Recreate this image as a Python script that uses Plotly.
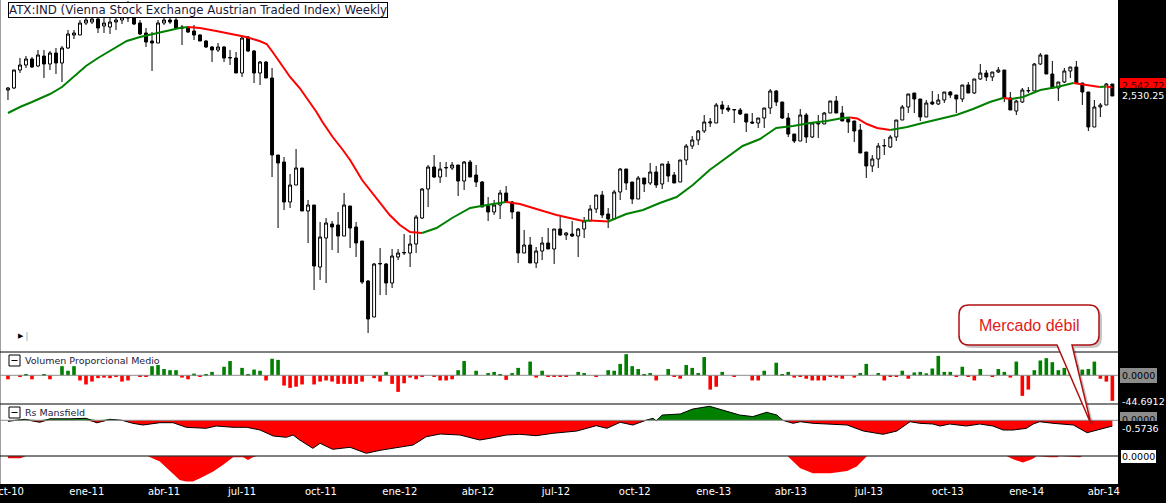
import numpy as np
import pandas as pd
import plotly.graph_objects as go
from plotly.subplots import make_subplots

# ---- datos (semanal, viernes desde 1-oct-2010) ----
start = pd.Timestamp('2010-10-01')

open_ = [2554, 2562, 2634, 2654, 2678, 2650, 2690, 2658, 2702, 2662,
         2722, 2774, 2774, 2822, 2826, 2838, 2810, 2806, 2826, 2834,
         2842, 2854, 2822, 2782, 2750, 2742, 2822, 2834, 2834, 2806,
         2806, 2790, 2774, 2750, 2726, 2714, 2726, 2682, 2682, 2622,
         2766, 2710, 2622, 2666, 2602, 2294, 2266, 2106, 2174, 2242,
         2070, 2094, 1846, 1962, 2018, 2014, 1970, 2090, 2006, 1950,
         1790, 1646, 1858, 1858, 1782, 1886, 1902, 1902, 1938, 2042,
         2158, 2246, 2206, 2242, 2242, 2254, 2190, 2266, 2214, 2186,
         2090, 2066, 2094, 2142, 2106, 2066, 1902, 1934, 1862, 1910,
         1942, 1918, 1998, 1974, 1978, 1970, 1998, 2030, 2078, 2134,
         2058, 2038, 2146, 2238, 2186, 2118, 2202, 2182, 2226, 2178,
         2258, 2214, 2186, 2274, 2330, 2354, 2390, 2422, 2422, 2494,
         2482, 2474, 2474, 2458, 2426, 2422, 2442, 2482, 2550, 2506,
         2442, 2378, 2350, 2454, 2366, 2418, 2418, 2462, 2510, 2462,
         2438, 2430, 2394, 2306, 2250, 2278, 2330, 2326, 2366, 2434,
         2486, 2542, 2518, 2446, 2506, 2498, 2514, 2546, 2534, 2518,
         2574, 2542, 2598, 2622, 2606, 2626, 2634, 2522, 2470, 2506,
         2550, 2550, 2658, 2694, 2618, 2562, 2586, 2630, 2646, 2582,
         2546, 2406, 2486, 2494, 2578]
high = [2566, 2634, 2682, 2690, 2686, 2714, 2714, 2710, 2722, 2730,
        2794, 2794, 2834, 2850, 2858, 2854, 2842, 2850, 2862, 2874,
        2910, 2866, 2834, 2802, 2786, 2834, 2846, 2854, 2850, 2814,
        2810, 2814, 2778, 2754, 2730, 2742, 2730, 2714, 2706, 2766,
        2770, 2714, 2670, 2670, 2642, 2294, 2286, 2218, 2318, 2242,
        2114, 2094, 2026, 2042, 2030, 2066, 2142, 2090, 2026, 1950,
        1794, 1862, 1922, 1862, 1918, 1918, 1978, 1974, 2054, 2162,
        2254, 2294, 2266, 2266, 2266, 2254, 2270, 2274, 2254, 2190,
        2126, 2114, 2154, 2170, 2110, 2066, 1994, 1966, 1926, 1966,
        2002, 1998, 2046, 1986, 2030, 2002, 2046, 2094, 2134, 2150,
        2082, 2154, 2242, 2238, 2186, 2210, 2202, 2262, 2250, 2258,
        2270, 2226, 2274, 2338, 2370, 2394, 2454, 2442, 2502, 2510,
        2494, 2478, 2482, 2458, 2462, 2442, 2482, 2558, 2554, 2506,
        2462, 2378, 2478, 2462, 2422, 2454, 2466, 2510, 2530, 2490,
        2442, 2430, 2418, 2306, 2294, 2342, 2358, 2374, 2434, 2494,
        2538, 2542, 2518, 2514, 2550, 2538, 2546, 2550, 2534, 2574,
        2586, 2598, 2658, 2634, 2626, 2646, 2634, 2546, 2514, 2562,
        2566, 2662, 2702, 2694, 2670, 2586, 2642, 2646, 2670, 2582,
        2546, 2514, 2502, 2582, 2578]
low = [2514, 2558, 2622, 2642, 2642, 2646, 2602, 2634, 2618, 2586,
       2718, 2758, 2774, 2814, 2818, 2782, 2782, 2778, 2794, 2818,
       2826, 2814, 2774, 2726, 2630, 2742, 2814, 2818, 2798, 2734,
       2782, 2754, 2750, 2722, 2666, 2706, 2666, 2654, 2622, 2606,
       2706, 2582, 2574, 2602, 2206, 2002, 2074, 2082, 2174, 2070,
       1942, 1754, 1794, 1782, 1914, 1902, 1970, 1922, 1886, 1778,
       1582, 1646, 1734, 1734, 1762, 1874, 1894, 1846, 1902, 2038,
       2086, 2202, 2182, 2206, 2234, 2130, 2154, 2206, 2166, 2086,
       2030, 2054, 2038, 2106, 2038, 1862, 1902, 1862, 1842, 1874,
       1918, 1858, 1970, 1954, 1966, 1886, 1962, 2030, 2062, 2042,
       2002, 2038, 2114, 2154, 2098, 2118, 2146, 2174, 2162, 2158,
       2186, 2182, 2186, 2254, 2318, 2334, 2382, 2406, 2422, 2458,
       2466, 2422, 2454, 2386, 2418, 2402, 2402, 2458, 2490, 2438,
       2366, 2342, 2350, 2342, 2362, 2362, 2418, 2462, 2462, 2430,
       2382, 2346, 2302, 2202, 2226, 2242, 2294, 2322, 2350, 2434,
       2462, 2462, 2430, 2446, 2494, 2494, 2502, 2522, 2462, 2506,
       2542, 2538, 2594, 2590, 2590, 2622, 2506, 2474, 2454, 2502,
       2542, 2550, 2654, 2618, 2562, 2510, 2582, 2602, 2582, 2494,
       2390, 2406, 2446, 2494, 2530]
close = [2562, 2634, 2654, 2678, 2646, 2694, 2658, 2702, 2662, 2722,
         2778, 2782, 2822, 2834, 2838, 2802, 2822, 2826, 2834, 2846,
         2858, 2818, 2778, 2746, 2742, 2822, 2834, 2826, 2802, 2802,
         2786, 2774, 2750, 2726, 2714, 2726, 2682, 2684, 2622, 2762,
         2710, 2622, 2666, 2602, 2294, 2262, 2106, 2174, 2242, 2070,
         2094, 1850, 1966, 2022, 2006, 1970, 2094, 2002, 1942, 1786,
         1638, 1858, 1860, 1782, 1890, 1902, 1904, 1938, 2046, 2158,
         2246, 2206, 2238, 2244, 2254, 2190, 2266, 2206, 2186, 2086,
         2066, 2094, 2142, 2106, 2066, 1902, 1934, 1862, 1910, 1942,
         1918, 1998, 1974, 1982, 1970, 1998, 2030, 2078, 2134, 2054,
         2038, 2146, 2238, 2182, 2118, 2202, 2178, 2226, 2174, 2258,
         2210, 2182, 2274, 2330, 2354, 2390, 2426, 2426, 2494, 2478,
         2474, 2476, 2458, 2426, 2422, 2442, 2482, 2550, 2506, 2442,
         2378, 2350, 2454, 2366, 2422, 2422, 2462, 2510, 2462, 2430,
         2426, 2390, 2302, 2250, 2278, 2330, 2332, 2366, 2434, 2486,
         2538, 2518, 2446, 2502, 2498, 2514, 2546, 2534, 2518, 2574,
         2542, 2598, 2622, 2606, 2626, 2634, 2522, 2474, 2510, 2554,
         2552, 2658, 2694, 2618, 2562, 2586, 2630, 2646, 2582, 2546,
         2406, 2486, 2494, 2578, 2530]

# media movil (posicion en semanas, valor)
ma_pos = [0, 2, 4, 7, 9, 11, 13, 15, 17.5, 19.8, 22, 24, 26.4, 28.6, 30, 32, 34.7, 37.5,
          39.7, 41.9, 43.1, 44.1, 45.8, 47, 48.6, 50, 51.4, 52.4, 54.1, 55.8, 57, 59, 60.3,
          62, 63.6, 65.3, 67, 69, 71.4, 74, 77, 79.8, 83, 85.3, 88.6, 91.4, 93.6, 95.8, 97,
          100, 101, 103, 105.8, 108.6, 111.4, 114.1, 116.9, 119.8, 122.4, 125.3, 128, 130.8,
          133.6, 136.4, 139.1, 140.3, 141.5, 143.1, 144.8, 147, 149.8, 152.4, 155.3, 158,
          160.8, 163.6, 165.8, 167.2, 169.1, 172, 174.8, 177.5, 180.3, 181.9, 183, 184]
ma_val = [2462, 2486, 2506, 2538, 2566, 2610, 2650, 2682, 2718, 2750, 2766, 2778, 2790, 2802,
          2806, 2802, 2790, 2778, 2766, 2750, 2738, 2706, 2646, 2606, 2562, 2514, 2466, 2426,
          2366, 2314, 2274, 2194, 2154, 2102, 2054, 2014, 1986, 1982, 2002, 2042, 2082, 2094,
          2106, 2098, 2074, 2054, 2042, 2030, 2032, 2028, 2038, 2058, 2074, 2102, 2126, 2174,
          2234, 2286, 2330, 2358, 2402, 2410, 2422, 2430, 2442, 2444, 2440, 2418, 2402, 2394,
          2406, 2422, 2438, 2454, 2478, 2506, 2522, 2518, 2526, 2554, 2566, 2582, 2572, 2566,
          2568, 2564]

# Volumen Proporcional Medio
volumen = [-7, 0, -2, 2, -7, 0, 2, -7, 0, 16,
           8, 16, -9, -16, -11, -5, -4, -5, -2, -11,
           -9, 0, -3, -3, 16, 18, 11, 9, 9, -4,
           -7, 3, -3, 2, 6, 0, 15, 25, 0, 13,
           2, 10, 8, -9, 29, 27, -18, -22, -20, -16,
           0, -16, -11, -9, -11, -15, -15, -15, -15, -11,
           0, -5, -11, 6, -15, -29, -14, -4, -7, -2,
           0, -2, -9, -9, -7, 9, 25, 0, 8, 0,
           4, 6, 2, -8, 4, 13, 0, 24, -4, 8,
           -2, -2, -2, -2, 0, 6, 4, 0, -2, 0,
           9, 8, 20, 37, 16, 11, 2, 4, -9, 0,
           11, -2, -6, 18, 13, 4, 32, -25, -20, 6,
           0, -2, 0, 0, -9, -9, 8, 0, 22, 2,
           6, -4, -2, -6, -9, -9, -9, -2, -4, -6,
           0, -4, 4, 20, 0, 4, -9, -2, -2, 8,
           -6, 5, 6, 3.5, 12, 34, 6, 6, -2, 15,
           -2, -9, 11, 0, -2, 11, 6, -4, 24, -36,
           -25, 9, 26, 30, 23, 9, 13, 22, 18, 10,
           11, 24, -6, -11, -44.6912]

# Rs Mansfield (curva superior)
rs_pos = [0, 2.8, 5.3, 7, 10.3, 13, 14.8, 17, 19, 20.8, 22.5, 25.3, 27.5, 29.7, 33, 34.7,
          37.5, 39.8, 42, 44.2, 46.4, 47.5, 48.6, 50.8, 52, 54.1, 57, 59.7, 62, 65.3, 67.5,
          69.7, 72, 75.3, 78.6, 80.3, 83, 85.3, 88, 90.8, 94.8, 98, 99.8, 102, 104.1, 106.4,
          107.5, 108, 109, 112, 114.1, 116.9, 119.1, 121.9, 124.1, 126.4, 128.1, 129.1,
          130.8, 132, 134.1, 137, 139.8, 142.5, 145.8, 148.1, 150.3, 151.9, 154.1, 155.3,
          156.9, 159.7, 161.9, 164.1, 165.8, 167.5, 169.7, 170.8, 171.9, 174.1, 176.4,
          177.5, 179.8, 182, 184]
rs_val = [-0.1, 0.1, -0.2, 0.15, 0.15, 0.2, -0.25, 0.1, 0.0, -0.3, -0.47, -0.24, -0.24,
          -0.7, -0.8, -0.57, -0.7, -0.7, -0.97, -1.57, -1.7, -1.47, -1.97, -2.8, -2.3, -2.9,
          -2.7, -3.3, -3.0, -2.7, -2.47, -1.64, -1.37, -1.47, -1.97, -1.8, -1.47, -1.4,
          -1.54, -1.3, -1.07, -0.54, -0.8, -0.2, -0.47, 0.03, 0.2, -0.07, 0.53, 0.63, 1.13,
          1.4, 1.03, 0.53, 0.37, 0.8, 0.53, 0.0, -0.3, -0.14, -0.3, -0.37, -0.47, -1.07,
          -1.4, -1.07, -0.14, -0.3, -0.37, -0.57, -0.37, -0.57, -0.37, -0.57, -0.97, -0.97,
          -0.8, -0.37, -0.14, -0.3, -0.37, -0.47, -1.24, -0.9, -0.5736]

# Rs Mansfield (banda inferior)
rs2_pos = [0, 2, 3, 23.3, 25.3, 27.5, 28.6, 29.7, 30.8, 32, 34.2, 35.8, 37.5, 39.2, 40,
           40.8, 41.5, 129.9, 132, 134.1, 137, 139.8, 141.4, 143.1, 166.4, 167.5, 169.1,
           170.6, 171.4, 173.6, 174.8, 175.2, 177.5, 178.6, 179, 184]
rs2_val = [-0.2, -0.2, 0, 0, -0.53, -1.7, -2.37, -2.53, -2.53, -2.2, -1.53, -0.87, -0.1,
           -0.1, -0.37, -0.1, 0, 0, -1.2, -1.7, -1.7, -1.47, -1.03, 0, 0, -0.3, -0.63,
           -0.3, 0, -0.1, -0.1, 0, -0.1, -0.1, 0, 0]

tick_dates = ['2010-10-01', '2011-01-01', '2011-04-01', '2011-07-01', '2011-10-01',
              '2012-01-01', '2012-04-01', '2012-07-01', '2012-10-01', '2013-01-01',
              '2013-04-01', '2013-07-01', '2013-10-01', '2014-01-01', '2014-04-01']
tick_text = ['oct-10', 'ene-11', 'abr-11', 'jul-11', 'oct-11', 'ene-12', 'abr-12', 'jul-12',
             'oct-12', 'ene-13', 'abr-13', 'jul-13', 'oct-13', 'ene-14', 'abr-14']


def week_dates(pos):
    return start + pd.to_timedelta(np.asarray(pos, dtype=float) * 7, unit='D')


dates = week_dates(np.arange(len(close)))

# pixel helpers (plot area 1118 x 484)
W, H = 1118, 484


def px(x):
    return x / W


def py(y):
    return 1 - y / H


GREEN = '#008000'
RED = '#ff0000'

fig = make_subplots(rows=4, cols=1, shared_xaxes=True, vertical_spacing=0,
                    row_heights=[352, 52, 52, 28])

fig.add_trace(go.Candlestick(
    x=dates, open=open_, high=high, low=low, close=close,
    increasing=dict(line=dict(color='black', width=1), fillcolor='white'),
    decreasing=dict(line=dict(color='black', width=1), fillcolor='black'),
    whiskerwidth=0), row=1, col=1)

# media movil coloreada segun pendiente
ma_x = week_dates(ma_pos)
segs = []
for k in range(len(ma_val) - 1):
    col = GREEN if ma_val[k + 1] >= ma_val[k] else RED
    if segs and segs[-1][0] == col:
        segs[-1][1].append(k + 1)
    else:
        segs.append([col, [k, k + 1]])
for col, ks in segs:
    fig.add_trace(go.Scatter(x=ma_x[ks], y=[ma_val[k] for k in ks], mode='lines',
                             line=dict(color=col, width=2)), row=1, col=1)

# volumen
fig.add_trace(go.Bar(x=dates, y=volumen,
                     marker=dict(color=[GREEN if v >= 0 else RED for v in volumen],
                                 line=dict(width=0))), row=2, col=1)

# Rs Mansfield
rs_x = week_dates(rs_pos)
rs_arr = np.array(rs_val)
fig.add_trace(go.Scatter(x=rs_x, y=np.clip(rs_arr, 0, None), mode='lines', fill='tozeroy',
                         fillcolor=GREEN, line=dict(width=0, color=GREEN)), row=3, col=1)
fig.add_trace(go.Scatter(x=rs_x, y=np.clip(rs_arr, None, 0), mode='lines', fill='tozeroy',
                         fillcolor=RED, line=dict(width=0, color=RED)), row=3, col=1)
fig.add_trace(go.Scatter(x=rs_x, y=rs_val, mode='lines',
                         line=dict(color='black', width=1)), row=3, col=1)
fig.add_trace(go.Scatter(x=week_dates(rs2_pos), y=rs2_val, mode='lines', fill='tozeroy',
                         fillcolor=RED, line=dict(width=0, color=RED)), row=4, col=1)

x_range = [pd.Timestamp('2010-09-21 17:00'), pd.Timestamp('2014-04-17 14:00')]
fig.update_xaxes(range=x_range, showgrid=False, zeroline=False, showline=False,
                 showticklabels=False, ticks='', rangeslider_visible=False,
                 automargin=False)
fig.update_xaxes(showticklabels=True, tickvals=tick_dates, ticktext=tick_text,
                 ticklabeloverflow='allow',
                 tickfont=dict(family='DejaVu Sans', size=10, color='white'),
                 row=4, col=1)
fig.update_yaxes(visible=False, fixedrange=True, automargin=False)
fig.update_yaxes(range=[1506, 2914], row=1, col=1)
fig.update_yaxes(range=[-50.2, 40.8], row=2, col=1)
fig.update_yaxes(range=[-3.57, 1.63], row=3, col=1)
fig.update_yaxes(range=[-2.77, 0.03], row=4, col=1)

shapes = []
# borde izquierdo y separadores
shapes.append(dict(type='line', xref='paper', yref='paper', x0=px(0.5), x1=px(0.5),
                   y0=0, y1=1, line=dict(color='#a0a0a0', width=1)))
for yy in (352, 404, 456):
    shapes.append(dict(type='line', xref='paper', yref='paper', x0=0, x1=1,
                       y0=py(yy), y1=py(yy), line=dict(color='black', width=1)))
for yr in ('y2', 'y3'):
    shapes.append(dict(type='line', xref='paper', yref=yr, x0=0, x1=1, y0=0, y1=0,
                       line=dict(color='#8c8c8c', width=1)))
# cajas de minimizar de los paneles
for top in (355, 407):
    shapes.append(dict(type='rect', xref='paper', yref='paper', x0=px(9), x1=px(20),
                       y0=py(top), y1=py(top + 11), line=dict(color='black', width=1),
                       fillcolor='white'))
    shapes.append(dict(type='line', xref='paper', yref='paper', x0=px(11.5), x1=px(17.5),
                       y0=py(top + 5.5), y1=py(top + 5.5), line=dict(color='black', width=1)))
shapes.append(dict(type='line', xref='paper', yref='paper', x0=px(27), x1=px(27),
                   y0=py(332), y1=py(341), line=dict(color='#b0b0b0', width=1)))


def callout(dx=0, dy=0):
    def X(x):
        return f'{px(x + dx):.5f}'

    def Y(y):
        return f'{py(y + dy):.5f}'
    x0, y0, x1, y1, r = 959, 305, 1099, 345, 10
    return (f'M {X(x0 + r)},{Y(y0)} L {X(x1 - r)},{Y(y0)} Q {X(x1)},{Y(y0)} {X(x1)},{Y(y0 + r)} '
            f'L {X(x1)},{Y(y1 - r)} Q {X(x1)},{Y(y1)} {X(x1 - r)},{Y(y1)} '
            f'L {X(1072)},{Y(y1)} L {X(1091)},{Y(424)} L {X(1057)},{Y(y1)} '
            f'L {X(x0 + r)},{Y(y1)} Q {X(x0)},{Y(y1)} {X(x0)},{Y(y1 - r)} '
            f'L {X(x0)},{Y(y0 + r)} Q {X(x0)},{Y(y0)} {X(x0 + r)},{Y(y0)} Z')


shapes.append(dict(type='path', xref='paper', yref='paper', path=callout(3, 3),
                   fillcolor='rgba(0,0,0,0.22)', line=dict(width=0)))
shapes.append(dict(type='path', xref='paper', yref='paper', path=callout(),
                   fillcolor='white', line=dict(color='#b01010', width=1.5)))

annotations = [
    dict(x=px(8), y=py(2), xanchor='left', yanchor='top',
         text='ATX:IND (Vienna Stock Exchange Austrian Traded Index) Weekly',
         font=dict(family='DejaVu Sans', size=11.8, color='#1a1a3a'),
         bgcolor='white', bordercolor='black', borderwidth=1, borderpad=0),
    dict(x=px(23), y=py(360.5), xanchor='left', yanchor='middle',
         text='Volumen Proporcional Medio',
         font=dict(family='DejaVu Sans', size=9.5, color='#1a1a3a')),
    dict(x=px(23), y=py(412.5), xanchor='left', yanchor='middle', text='Rs Mansfield',
         font=dict(family='DejaVu Sans', size=9.5, color='#1a1a3a')),
    dict(x=px(21), y=py(336), xanchor='center', yanchor='middle', text='▶',
         font=dict(family='DejaVu Sans', size=7, color='black')),
    dict(x=px(1029), y=py(325), xanchor='center', yanchor='middle', text='Mercado débil',
         font=dict(family='Liberation Sans', size=16, color='#e02020')),
]


def side_label(text, y, fg, bg, border=None):
    annotations.append(dict(x=px(1120), y=py(y), xanchor='left', yanchor='middle',
                            text=text, font=dict(family='DejaVu Sans', size=9.5, color=fg),
                            bgcolor=bg, bordercolor=border or bg,
                            borderwidth=1, borderpad=1))


side_label('2,542.72', 86, '#300000', RED)
side_label('2,530.25', 95, 'white', 'black')
side_label('0.0000', 375, 'black', '#8c8c8c')
side_label('-44.6912', 401, 'white', 'black')
side_label('0.0000', 419, 'black', '#8c8c8c')
side_label('-0.5736', 428, 'white', 'black')
side_label('0.0000', 456.5, 'black', 'white', 'black')

for a in annotations:
    a.update(xref='paper', yref='paper', showarrow=False)

fig.update_layout(width=1166, height=503, margin=dict(l=0, r=48, t=0, b=19),
                  paper_bgcolor='black', plot_bgcolor='white', showlegend=False,
                  bargap=0.4, shapes=shapes, annotations=annotations,
                  hovermode=False)

# quitar el margen del body para que la figura ocupe la ventana
fig.write_html("out.html", config={'displayModeBar': False},
               post_script="document.body.style.margin='0px';"
                           "document.body.style.overflow='hidden';")
